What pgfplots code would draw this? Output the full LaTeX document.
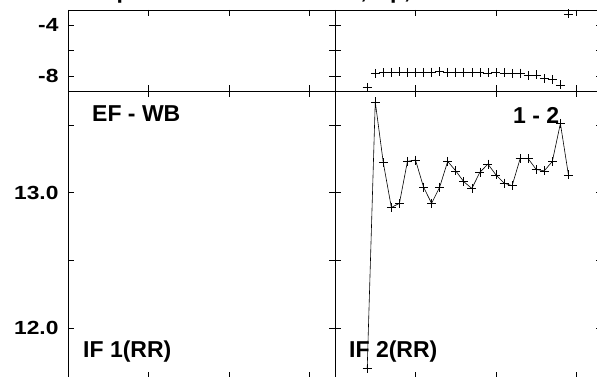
\documentclass[border=0pt]{standalone}
\usepackage{fontspec}
\setmainfont{Liberation Sans}
\newfontfamily\tickfont[FakeStretch=1.2]{Liberation Sans}
\usepackage{pgfplots}
\pgfplotsset{compat=1.18}

% right column, top row: markers only
\pgfplotstableread{
x y
4 -8.89
5 -7.80
6 -7.75
7 -7.72
8 -7.68
9 -7.72
10 -7.74
11 -7.72
12 -7.70
13 -7.65
14 -7.72
15 -7.70
16 -7.72
17 -7.74
18 -7.74
19 -7.76
20 -7.74
21 -7.76
22 -7.80
23 -7.78
24 -7.98
25 -7.92
26 -8.20
27 -8.26
28 -8.70
29 -3.12
}\toprr

% right column, bottom row: line with markers
\pgfplotstableread{
x y
4 11.70
5 13.67
6 13.22
7 12.89
8 12.92
9 13.23
10 13.24
11 13.04
12 12.92
13 13.04
14 13.23
15 13.16
16 13.08
17 13.03
18 13.15
19 13.21
20 13.13
21 13.07
22 13.05
23 13.25
24 13.25
25 13.17
26 13.16
27 13.23
28 13.51
29 13.13
}\botrr

\pgfplotsset{
  panel/.style={
    scale only axis, anchor=south west,
    width=267pt,
    xmin=0, xmax=33.17,
    xtick={0,10,20,30}, xticklabels={},
    tick pos=both, tick align=inside,
    major tick length=6pt, minor tick length=6pt,
    every tick/.style={black, line width=0.6pt},
    axis line style={line width=0.8pt},
    yticklabel style={font=\tickfont\bfseries\fontsize{19}{21}\selectfont, xshift=-6pt},
    clip=false,
  },
  toprow/.style={panel, height=81pt,
    ymin=-9.18, ymax=-2.82, ytick={-8,-4}, minor ytick={-6}},
  botrow/.style={panel, height=287pt,
    ymin=11.63, ymax=13.75, ytick={12,13}, minor ytick={12.5,13.5}},
  pts/.style={black, line width=0.6pt, mark=+, mark size=4.5pt},
}

\begin{document}
\begin{tikzpicture}
\path[use as bounding box] (0pt,0pt) rectangle (597pt,377pt);

% top left
\begin{axis}[toprow, at={(68pt,286pt)}, yticklabels={-8,-4}]
\end{axis}
% bottom left
\begin{axis}[botrow, at={(68pt,-1pt)}, yticklabels={12.0,13.0}]
\end{axis}
% top right
\begin{axis}[toprow, at={(335pt,286pt)}, yticklabels={}]
\addplot[pts, only marks] table {\toprr};
\end{axis}
% bottom right
\begin{axis}[botrow, at={(335pt,-1pt)}, yticklabels={}]
\addplot[pts] table {\botrr};
\end{axis}

\begin{scope}[every node/.style={font=\bfseries\fontsize{23}{25}\selectfont, inner sep=0pt, anchor=base west}]
\node at (92pt,255pt) {EF - WB};
\node at (513pt,253pt) {1 - 2};
\node at (83pt,19pt) {IF 1(RR)};
\node at (349pt,19pt) {IF 2(RR)};
\node at (90pt,378.5pt) {Top Pressure Coefficient, Cp, Pressure Side - Suction Side};
\end{scope}
\end{tikzpicture}
\end{document}
